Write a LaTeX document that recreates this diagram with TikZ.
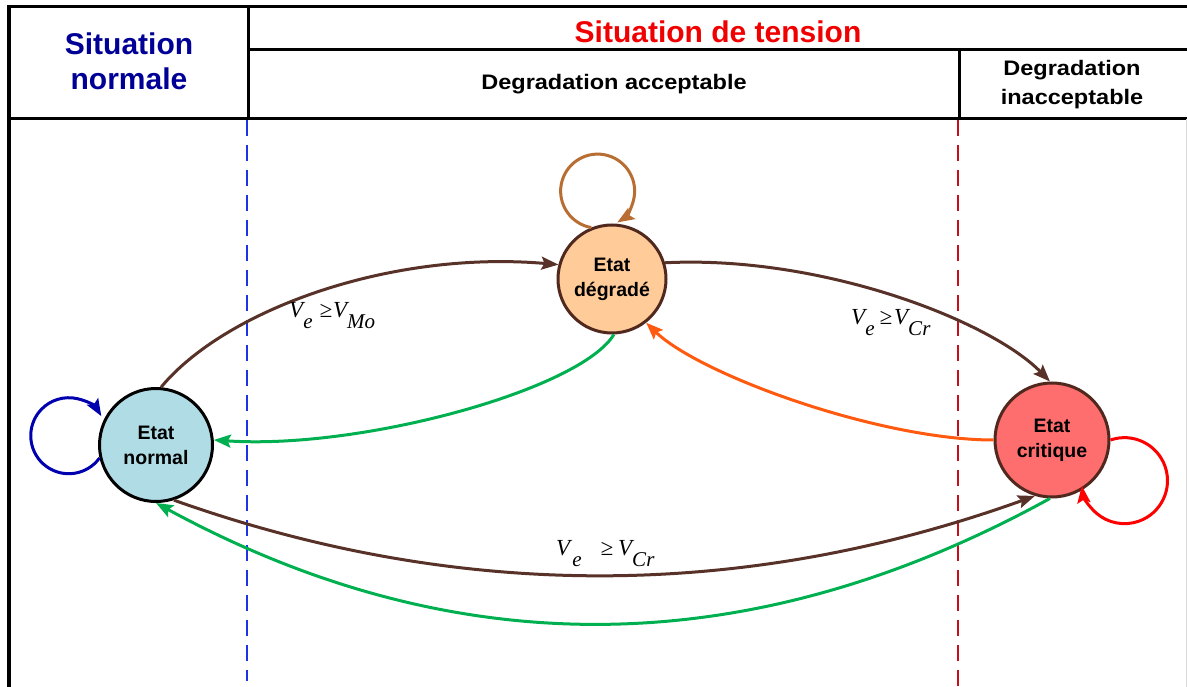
\documentclass[tikz,border=0pt]{standalone}
\usepackage{fontspec}
\setmainfont{Liberation Sans}
\newfontfamily\hdr[FakeStretch=1.12]{Liberation Sans}
\newfontfamily\lblfont{Liberation Serif}
\usetikzlibrary{arrows.meta}
\definecolor{navyT}{RGB}{0,0,150}
\definecolor{redT}{RGB}{240,0,0}
\definecolor{edgebrown}{RGB}{88,50,40}
\definecolor{loopbrown}{RGB}{184,110,50}
\definecolor{greenE}{RGB}{0,176,80}
\definecolor{orangeE}{RGB}{255,90,15}
\definecolor{blueloop}{RGB}{0,0,175}
\definecolor{dashblue}{RGB}{30,50,230}
\definecolor{dashred}{RGB}{200,15,25}
\definecolor{fillnormal}{RGB}{176,220,230}
\definecolor{filldeg}{RGB}{255,204,153}
\definecolor{fillcrit}{RGB}{255,110,110}
\definecolor{borderbrown}{RGB}{80,40,30}
\newcommand{\lsub}[1]{\raisebox{-11pt}{\fontsize{21}{21}\selectfont #1}}
\begin{document}
\begin{tikzpicture}[x=1pt,y=1pt,
  frameline/.style={line width=3pt},
  stnode/.style={circle, line width=3pt, align=center, inner sep=0pt,
    font=\fontsize{19.5}{25}\selectfont\bfseries, text=black},
  edgeline/.style={line width=3pt, -{Stealth[length=17pt,width=13pt,inset=3pt]}},
  condlabel/.style={anchor=base west, inner sep=0pt, font=\lblfont\itshape\fontsize{23}{23}\selectfont},
  sepline/.style={line width=2pt, dash pattern=on 16pt off 9pt}
]
\useasboundingbox (0,0) rectangle (1187,-687);

% separators
\draw[sepline, dashblue] (247,-120) -- (247,-681);
\draw[sepline, dashred] (958,-120) -- (958,-690);

% frame and header
\draw[line width=4pt] (9,-690) -- (9,-7);
\draw[frameline] (7,-7) -- (1190,-7);
\draw[frameline] (9,-119) -- (1190,-119);
\draw[frameline] (248,-7) -- (248,-119);
\draw[frameline] (248,-50) -- (1190,-50);
\draw[frameline] (959,-50) -- (959,-119);
\draw[black!15, line width=1pt] (1186.5,-119) -- (1186.5,-687);

\node[align=center, text=navyT, font=\bfseries\fontsize{30}{35}\selectfont] (hSN) at (129,-61) {Situation\\normale};
\node[text=redT, font=\bfseries\fontsize{30}{33}\selectfont] (hST) at (718,-32) {Situation de tension};
\node[font=\hdr\bfseries\fontsize{21}{25}\selectfont] (hDA) at (614,-84) {Degradation acceptable};
\node[align=center, font=\hdr\bfseries\fontsize{21}{29}\selectfont] (hDI) at (1072,-85) {Degradation\\inacceptable};

% states
\node[stnode, draw=black, fill=fillnormal, minimum size=113pt] (N) at (156,-445) {Etat\\normal};
\node[stnode, draw=borderbrown, fill=filldeg, minimum size=108pt] (D) at (612,-279) {Etat\\dégradé};
\node[stnode, draw=borderbrown, fill=fillcrit, minimum size=114pt] (C) at (1052,-440) {Etat\\critique};

% self loops
\draw[edgeline, blueloop] (N.193) arc[start angle=-36, end angle=-329, radius=38];
\draw[edgeline, loopbrown] (D.112) arc[start angle=260, end angle=-58, radius=37];
\draw[edgeline, red] (C.0) arc[start angle=109, end angle=-173, radius=43];

% transitions
\draw[edgeline, edgebrown] (N.85) .. controls (225,-310) and (390,-250) .. (D.165);
\draw[edgeline, edgebrown] (D.17) .. controls (820,-255) and (990,-320) .. (C.92);
\draw[edgeline, greenE] (D.-88) .. controls (580,-390) and (360,-450) .. (N.5);
\draw[edgeline, orangeE] (C.180) .. controls (880,-440) and (700,-375) .. (D.-52);
\draw[edgeline, edgebrown] (N.-72) .. controls (463,-603) and (748,-599) .. (C.-107);
\draw[edgeline, greenE] (C.-92) .. controls (751,-663) and (456,-666) .. (N.-90);

% condition labels
\node[condlabel] (L1) at (289,-318) {V\lsub{e}\hspace{7pt}≥\hspace{1pt}V\lsub{Mo}};
\node[condlabel] (L2) at (851,-324) {V\lsub{e}\hspace{5pt}≥\hspace{2pt}V\lsub{Cr}};
\node[condlabel] (L3) at (556,-555) {V\hspace{2pt}\lsub{e}\hspace{19pt}≥\hspace{5pt}V\lsub{Cr}};
\end{tikzpicture}
\end{document}
